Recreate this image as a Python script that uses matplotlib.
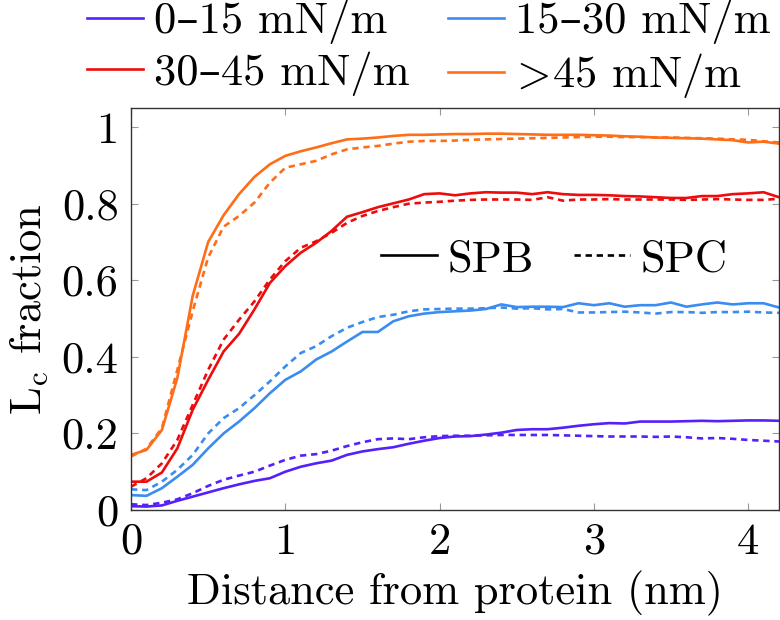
import numpy as np
import matplotlib
matplotlib.use("Agg")
import matplotlib.pyplot as plt
from matplotlib.legend import Legend

# distance from protein (nm)
dist = [0.0, 0.1, 0.2, 0.3, 0.4, 0.5, 0.6, 0.7, 0.8, 0.9,
        1.0, 1.1, 1.2, 1.3, 1.4, 1.5, 1.6, 1.7, 1.8, 1.9,
        2.0, 2.1, 2.2, 2.3, 2.4, 2.5, 2.6, 2.7, 2.8, 2.9,
        3.0, 3.1, 3.2, 3.3, 3.4, 3.5, 3.6, 3.7, 3.8, 3.9,
        4.0, 4.1, 4.2]

# 0-15 mN/m
p0_spb = [0.010, 0.009, 0.012, 0.024, 0.035, 0.046, 0.057, 0.067, 0.076, 0.083,
          0.100, 0.113, 0.122, 0.129, 0.144, 0.153, 0.159, 0.164, 0.173, 0.181,
          0.188, 0.192, 0.193, 0.197, 0.202, 0.209, 0.211, 0.211, 0.215, 0.220,
          0.224, 0.227, 0.226, 0.231, 0.231, 0.231, 0.232, 0.233, 0.232, 0.233,
          0.234, 0.234, 0.233]
p0_spc = [0.015, 0.013, 0.019, 0.028, 0.044, 0.063, 0.079, 0.090, 0.100, 0.116,
          0.131, 0.142, 0.146, 0.155, 0.167, 0.177, 0.185, 0.187, 0.185, 0.190,
          0.193, 0.194, 0.194, 0.195, 0.196, 0.196, 0.196, 0.196, 0.195, 0.194,
          0.193, 0.192, 0.192, 0.192, 0.191, 0.192, 0.190, 0.187, 0.188, 0.186,
          0.183, 0.181, 0.179]

# 15-30 mN/m
p15_spb = [0.039, 0.037, 0.057, 0.087, 0.118, 0.161, 0.200, 0.231, 0.266, 0.305,
           0.340, 0.362, 0.393, 0.414, 0.440, 0.465, 0.465, 0.493, 0.506, 0.513,
           0.517, 0.519, 0.521, 0.525, 0.537, 0.530, 0.531, 0.531, 0.530, 0.540,
           0.535, 0.540, 0.531, 0.535, 0.535, 0.542, 0.531, 0.537, 0.542, 0.537,
           0.540, 0.540, 0.529]
p15_spc = [0.054, 0.052, 0.074, 0.105, 0.144, 0.200, 0.240, 0.266, 0.300, 0.336,
           0.375, 0.410, 0.428, 0.454, 0.476, 0.491, 0.504, 0.510, 0.519, 0.524,
           0.525, 0.526, 0.526, 0.527, 0.529, 0.526, 0.527, 0.524, 0.525, 0.516,
           0.516, 0.517, 0.518, 0.516, 0.513, 0.517, 0.517, 0.515, 0.517, 0.517,
           0.518, 0.516, 0.515]

# 30-45 mN/m
p30_spb = [0.074, 0.074, 0.098, 0.161, 0.262, 0.340, 0.414, 0.460, 0.524, 0.593,
           0.637, 0.672, 0.698, 0.729, 0.766, 0.778, 0.791, 0.801, 0.811, 0.825,
           0.827, 0.822, 0.827, 0.830, 0.829, 0.829, 0.825, 0.830, 0.825, 0.823,
           0.823, 0.822, 0.820, 0.819, 0.817, 0.815, 0.815, 0.820, 0.820, 0.825,
           0.827, 0.830, 0.817]
p30_spc = [0.061, 0.083, 0.122, 0.183, 0.275, 0.366, 0.445, 0.497, 0.545, 0.602,
           0.650, 0.685, 0.702, 0.724, 0.750, 0.768, 0.781, 0.791, 0.800, 0.803,
           0.805, 0.808, 0.810, 0.811, 0.811, 0.811, 0.810, 0.817, 0.808, 0.811,
           0.811, 0.812, 0.811, 0.811, 0.811, 0.811, 0.810, 0.811, 0.812, 0.811,
           0.810, 0.810, 0.813]

# >45 mN/m
p45_spb = [0.144, 0.157, 0.209, 0.345, 0.560, 0.700, 0.770, 0.825, 0.870, 0.903,
           0.925, 0.937, 0.947, 0.958, 0.968, 0.970, 0.973, 0.977, 0.980, 0.980,
           0.981, 0.982, 0.982, 0.983, 0.983, 0.982, 0.981, 0.980, 0.980, 0.980,
           0.979, 0.978, 0.976, 0.975, 0.973, 0.972, 0.971, 0.970, 0.968, 0.966,
           0.960, 0.962, 0.957]
p45_spc = [0.140, 0.160, 0.214, 0.366, 0.520, 0.660, 0.740, 0.768, 0.803, 0.855,
           0.894, 0.903, 0.912, 0.929, 0.942, 0.947, 0.951, 0.957, 0.962, 0.964,
           0.964, 0.965, 0.967, 0.968, 0.969, 0.970, 0.971, 0.972, 0.973, 0.974,
           0.975, 0.975, 0.974, 0.974, 0.973, 0.973, 0.972, 0.971, 0.970, 0.968,
           0.967, 0.963, 0.960]

etiquetas = ["0\u201315 mN/m", "15\u201330 mN/m", "30\u201345 mN/m", r"$\!>\!$45 mN/m"]
colores = ["#5520fa", "#3a8cf0", "#ee0b0b", "#ff6d16"]

xticks = [0, 1, 2, 3, 4]
xtick_labels = ["0", "1", "2", "3", "4"]
yticks = [0, 0.2, 0.4, 0.6, 0.8, 1.0]
ytick_labels = ["0", "0.2", "0.4", "0.6", "0.8", "1"]

plt.rcParams['font.family'] = ['cmr10', 'DejaVu Serif']
plt.rcParams['mathtext.fontset'] = 'cm'
plt.rcParams['axes.formatter.use_mathtext'] = True
plt.rcParams['font.size'] = 32

fig = plt.figure(figsize=(7.8, 6.2), dpi=100)
ax = fig.add_axes([0.168, 0.1774, 0.8307, 0.6484])

lw = 1.9
punteado = (0, (2.4, 1.8))

solidas = []
for spb, spc, c in zip([p0_spb, p15_spb, p30_spb, p45_spb],
                       [p0_spc, p15_spc, p30_spc, p45_spc], colores):
    ax.plot(dist, spc, color=c, lw=lw, linestyle=punteado)
    l, = ax.plot(dist, spb, color=c, lw=lw)
    solidas.append(l)

ax.set_xlim(0, 4.2)
ax.set_ylim(0, 1.05)
ax.set_xticks(xticks)
ax.set_xticklabels(xtick_labels)
ax.set_yticks(yticks)
ax.set_yticklabels(ytick_labels)
ax.tick_params(direction='in', length=5, width=0.8, color='#999999',
               top=True, right=True, pad=9)
for s in ax.spines.values():
    s.set_linewidth(1.0)
    s.set_color('#333333')

ax.set_xlabel("Distance from protein (nm)", labelpad=6)
ax.set_ylabel(r"$\mathrm{L_c}$ fraction", labelpad=8)

# leyenda de colores (arriba, fuera del eje)
orden = [0, 2, 1, 3]
fig.legend([solidas[i] for i in orden], [etiquetas[i] for i in orden],
           ncol=2, loc='upper left', bbox_to_anchor=(87/780, 1.0),
           frameon=False, borderpad=0, borderaxespad=0,
           handlelength=1.25, handletextpad=0.25, columnspacing=0.88,
           labelspacing=0.15)

# leyenda de estilos
h1, = ax.plot([], [], color='black', lw=lw)
h2, = ax.plot([], [], color='black', lw=lw, linestyle=punteado)
leg2 = Legend(ax, [h1, h2], ["SPB", "SPC"], ncol=2, loc='center left',
              bbox_to_anchor=(0.324, 0.622), frameon=False,
              handlelength=1.25, handletextpad=0.25, columnspacing=0.9)
ax.add_artist(leg2)

fig.savefig("out.png", dpi=100)
